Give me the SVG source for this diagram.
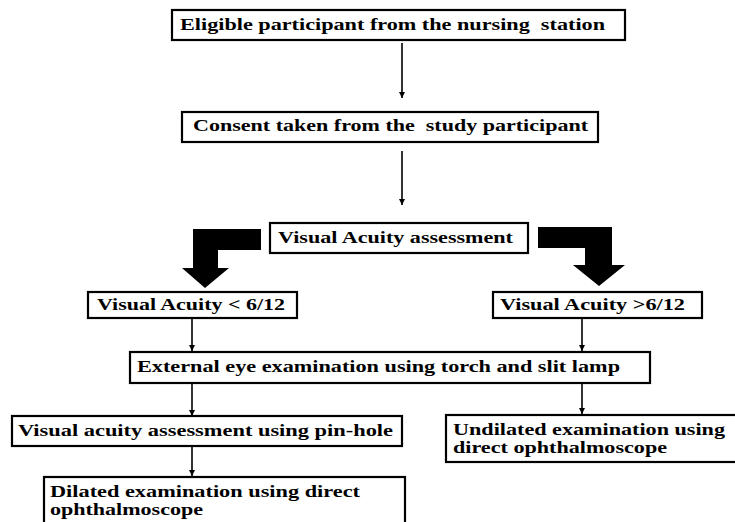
<svg xmlns="http://www.w3.org/2000/svg" width="735" height="522" viewBox="0 0 735 522">
<style>
.box{fill:#fff;stroke:#000;stroke-width:2.2}
.t{font-family:"Liberation Serif","Times New Roman",serif;font-weight:bold;font-size:17.5px;fill:#000}
.t2{font-family:"Liberation Serif","Times New Roman",serif;font-weight:bold;font-size:16.5px;fill:#000}
.ln{stroke:#000;stroke-width:1.6;fill:none}
.big{fill:#000}
</style>
<defs>
<marker id="ah" markerWidth="8" markerHeight="8" refX="6" refY="4" orient="auto" markerUnits="userSpaceOnUse">
<path d="M0,1 L6,4 L0,7 Z" fill="#000"/>
</marker>
</defs>
<rect width="735" height="522" fill="#fff"/>
<g id="connectors">
<line class="ln" x1="402" y1="43" x2="402" y2="98" marker-end="url(#ah)"/>
<line class="ln" x1="402" y1="151" x2="402" y2="205" marker-end="url(#ah)"/>
<path class="big" d="M261,229 L193,229 L193,268 L182,268 L205,288 L229,268 L218,268 L218,250 L261,250 Z"/>
<path class="big" d="M538,227 L612,227 L612,265 L625,265 L599,286 L573,265 L585,265 L585,248 L538,248 Z"/>
<line class="ln" x1="192" y1="318" x2="192" y2="351" marker-end="url(#ah)"/>
<line class="ln" x1="582" y1="318" x2="582" y2="351" marker-end="url(#ah)"/>
<line class="ln" x1="192" y1="383" x2="192" y2="416" marker-end="url(#ah)"/>
<line class="ln" x1="582" y1="383" x2="582" y2="414" marker-end="url(#ah)"/>
<line class="ln" x1="192" y1="446" x2="192" y2="476" marker-end="url(#ah)"/>
</g>
<g id="n1"><rect class="box" x="172" y="10" width="453" height="30"/><text class="t" x="180" y="30" xml:space="preserve" textLength="425" lengthAdjust="spacingAndGlyphs">Eligible participant from the nursing  station</text></g>
<g id="n2"><rect class="box" x="182" y="112" width="416" height="30"/><text class="t" x="193" y="131" xml:space="preserve" textLength="395" lengthAdjust="spacingAndGlyphs">Consent taken from the  study participant</text></g>
<g id="n3"><rect class="box" x="270" y="223" width="258" height="30"/><text class="t" x="278" y="243" textLength="235" lengthAdjust="spacingAndGlyphs">Visual Acuity assessment</text></g>
<g id="n4"><rect class="box" x="88" y="292" width="209" height="26"/><text class="t" x="97" y="310" textLength="188" lengthAdjust="spacingAndGlyphs">Visual Acuity &lt; 6/12</text></g>
<g id="n5"><rect class="box" x="493" y="292" width="209" height="26"/><text class="t" x="500" y="310" textLength="185" lengthAdjust="spacingAndGlyphs">Visual Acuity &gt;6/12</text></g>
<g id="n6"><rect class="box" x="130" y="352" width="520" height="31"/><text class="t" x="137" y="372" textLength="483" lengthAdjust="spacingAndGlyphs">External eye examination using torch and slit lamp</text></g>
<g id="n7"><rect class="box" x="12" y="416" width="390" height="30"/><text class="t" x="18" y="436" textLength="375" lengthAdjust="spacingAndGlyphs">Visual acuity assessment using pin-hole</text></g>
<g id="n8"><rect class="box" x="446" y="415" width="295" height="47"/><text class="t2" x="453" y="435" textLength="272" lengthAdjust="spacingAndGlyphs">Undilated examination using</text><text class="t2" x="453" y="453" textLength="214" lengthAdjust="spacingAndGlyphs">direct ophthalmoscope</text></g>
<g id="n9"><rect class="box" x="44" y="477" width="361" height="50"/><text class="t2" x="50" y="497" textLength="310" lengthAdjust="spacingAndGlyphs">Dilated examination using direct</text><text class="t2" x="50" y="515" textLength="153" lengthAdjust="spacingAndGlyphs">ophthalmoscope</text></g>
</svg>
